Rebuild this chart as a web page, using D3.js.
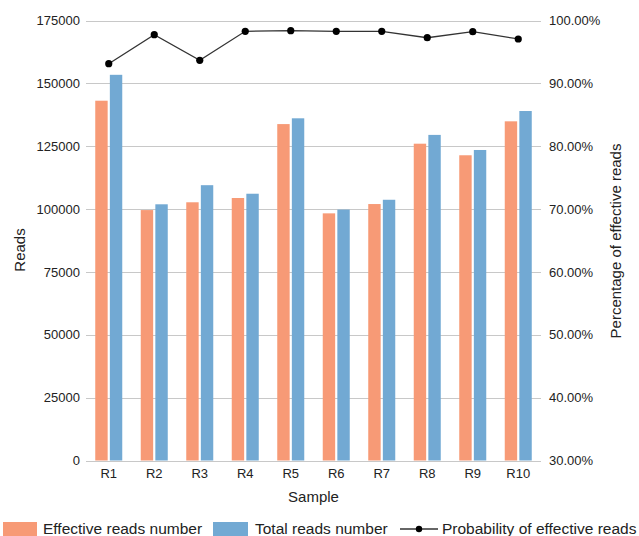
<!DOCTYPE html>
<html>
<head>
<meta charset="utf-8">
<script src="https://cdn.jsdelivr.net/npm/d3@7"></script>
<style>
  html, body { margin: 0; padding: 0; background: #fff; }
  svg { display: block; font-family: "Liberation Sans", Arial, Helvetica, sans-serif; }
</style>
</head>
<body>
<svg id="chart" width="639" height="536"></svg>
<script>
// Samples on the x axis
const samples = ["R1", "R2", "R3", "R4", "R5", "R6", "R7", "R8", "R9", "R10"];
// Reads counts per sample
const effectiveReads = [143100, 99600, 102700, 104400, 133800, 98300, 102000, 126000, 121400, 134900];
const totalReads = [153400, 101900, 109500, 106100, 136100, 99800, 103700, 129500, 123500, 139000];
// Share of effective reads (%)
const effectivePct = [93.13, 97.74, 93.67, 98.28, 98.38, 98.28, 98.28, 97.26, 98.22, 97.06];
// Axis tick values
const readsTicks = [0, 25000, 50000, 75000, 100000, 125000, 150000, 175000];
const pctTicks = [30, 40, 50, 60, 70, 80, 90, 100];

const colors = { effective: "#F79A76", total: "#72A9D3", line: "#333333", grid: "#C8C8C8", text: "#222222" };

const svg = d3.select("#chart");
const margin = { left: 86, right: 98, top: 20.5, bottom: 75.5 };
const W = 639, H = 536;
const x0 = margin.left, x1 = W - margin.right;
const yTop = margin.top, yBot = H - margin.bottom;

const x = d3.scaleBand().domain(samples).range([x0, x1]).paddingInner(0).paddingOuter(0);
const xInner = d3.scaleBand().domain(["effective", "total"]).range([0, 27]).paddingInner(0.15);
const yL = d3.scaleLinear().domain([0, 175000]).range([yBot, yTop]);
const yR = d3.scaleLinear().domain([30, 100]).range([yBot, yTop]);

// Grid lines
svg.append("g").selectAll("line").data(readsTicks).join("line")
  .attr("x1", x0).attr("x2", x1)
  .attr("y1", d => Math.round(yL(d)) + 0.5).attr("y2", d => Math.round(yL(d)) + 0.5)
  .attr("stroke", colors.grid).attr("stroke-width", 1);

// Left axis
const axL = svg.append("g").attr("transform", `translate(${x0},0)`)
  .call(d3.axisLeft(yL).tickValues(readsTicks).tickSize(0).tickPadding(6).tickFormat(d3.format("d")));
axL.select(".domain").remove();
axL.selectAll("text").attr("font-size", 13).attr("fill", colors.text).attr("font-family", null);

// Right axis
const axR = svg.append("g").attr("transform", `translate(${x1},0)`)
  .call(d3.axisRight(yR).tickValues(pctTicks).tickSize(0).tickPadding(8).tickFormat(d => d.toFixed(2) + "%"));
axR.select(".domain").remove();
axR.selectAll("text").attr("font-size", 13).attr("fill", colors.text).attr("font-family", null);

// Bottom axis labels
const axB = svg.append("g").attr("transform", `translate(0,${yBot})`)
  .call(d3.axisBottom(x).tickSize(0).tickPadding(8));
axB.select(".domain").remove();
axB.selectAll("text").attr("font-size", 13).attr("fill", colors.text).attr("font-family", null);

// Bars
const groups = svg.append("g").selectAll("g").data(samples).join("g")
  .attr("transform", d => `translate(${x(d) + (x.bandwidth() - 27) / 2},0)`);
groups.append("rect")
  .attr("x", xInner("effective")).attr("width", xInner.bandwidth())
  .attr("y", (d, i) => yL(effectiveReads[i]))
  .attr("height", (d, i) => yBot - yL(effectiveReads[i]))
  .attr("fill", colors.effective);
groups.append("rect")
  .attr("x", xInner("total")).attr("width", xInner.bandwidth())
  .attr("y", (d, i) => yL(totalReads[i]))
  .attr("height", (d, i) => yBot - yL(totalReads[i]))
  .attr("fill", colors.total);

// Percentage line
const cx = d => x(d) + x.bandwidth() / 2;
const line = d3.line().x((d, i) => cx(samples[i])).y(d => yR(d));
svg.append("path").datum(effectivePct).attr("d", line)
  .attr("fill", "none").attr("stroke", colors.line).attr("stroke-width", 1.3);
svg.append("g").selectAll("circle").data(effectivePct).join("circle")
  .attr("cx", (d, i) => cx(samples[i])).attr("cy", d => yR(d)).attr("r", 3.6)
  .attr("fill", "#000");

// Axis titles
svg.append("text").attr("transform", `translate(25,250) rotate(-90)`)
  .attr("text-anchor", "middle").attr("font-size", 15).attr("fill", colors.text).text("Reads");
svg.append("text").attr("transform", `translate(621,241) rotate(-90)`)
  .attr("text-anchor", "middle").attr("font-size", 15).attr("fill", colors.text).text("Percentage of effective reads");
svg.append("text").attr("x", (x0 + x1) / 2).attr("y", 502)
  .attr("text-anchor", "middle").attr("font-size", 15).attr("fill", colors.text).text("Sample");

// Legend
const leg = svg.append("g");
const legY = 529;
leg.append("rect").attr("x", 3).attr("y", 522).attr("width", 34).attr("height", 14).attr("fill", colors.effective);
leg.append("text").attr("x", 43).attr("y", legY + 5).attr("font-size", 15.5).attr("fill", colors.text).text("Effective reads number");
leg.append("rect").attr("x", 213).attr("y", 522).attr("width", 35).attr("height", 14).attr("fill", colors.total);
leg.append("text").attr("x", 255).attr("y", legY + 5).attr("font-size", 15.5).attr("fill", colors.text).text("Total reads number");
leg.append("line").attr("x1", 400).attr("x2", 438).attr("y1", legY).attr("y2", legY)
  .attr("stroke", colors.line).attr("stroke-width", 1.3);
leg.append("circle").attr("cx", 419).attr("cy", legY).attr("r", 3.2).attr("fill", "#000");
leg.append("text").attr("x", 442).attr("y", legY + 5).attr("font-size", 15.5).attr("fill", colors.text).text("Probability of effective reads");
</script>
</body>
</html>
